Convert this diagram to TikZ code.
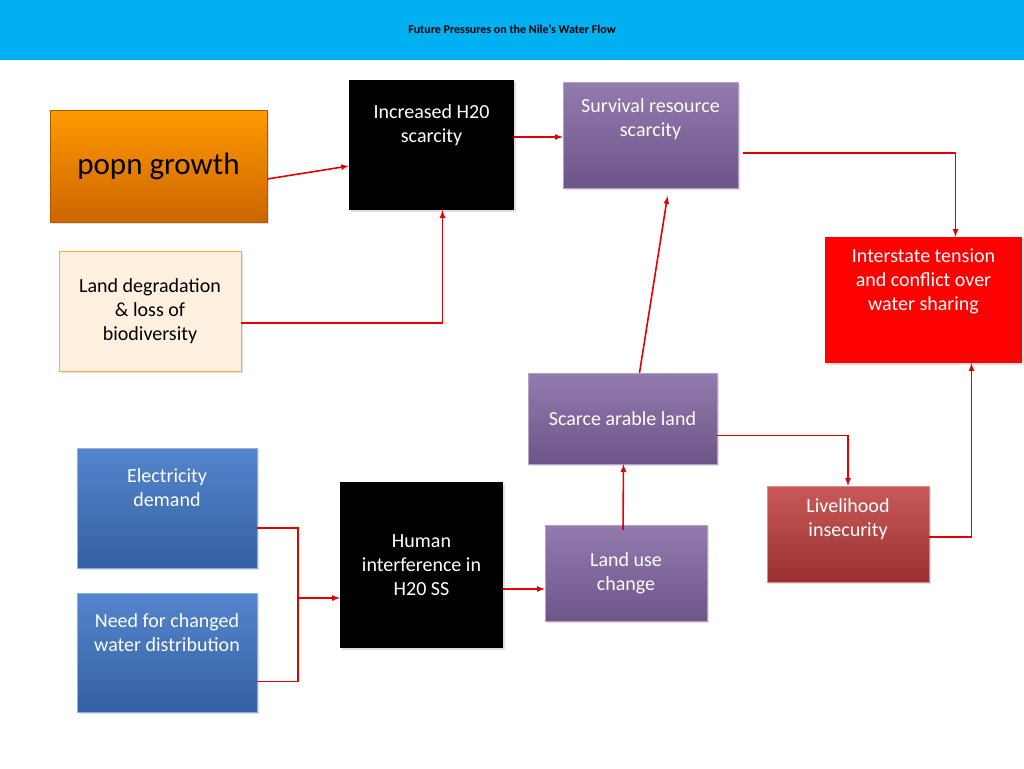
\documentclass[tikz,border=0pt]{standalone}
\usepackage{fontspec}
\setmainfont{Carlito}
\usetikzlibrary{shadows}
\definecolor{titlebg}{RGB}{0,176,240}
\definecolor{purp}{RGB}{128,100,162}
\definecolor{blu}{RGB}{65,120,200}
\definecolor{lvred}{RGB}{192,60,60}
\tikzset{
  box/.style={minimum width=#1, align=center, font=\fontsize{20}{24}\selectfont, drop shadow={opacity=0.25}},
  purpbox/.style={box=#1, top color=purp!85!white, bottom color=purp!85!black, draw=purp!60!white, text=white},
  blkbox/.style={box=#1, fill=black, text=white},
  bluebox/.style={box=#1, top color=blu!90!white, bottom color=blu!80!black, draw=blu!60!white, text=white},
  link/.style={draw=red!90!black, line width=1.6pt, -latex}
}
\begin{document}
\begin{tikzpicture}[x=1pt, y=-1pt]
  \useasboundingbox (0,0) rectangle (1024,768);
  \fill[titlebg] (0,0) rectangle (1024,60);
  \node[font=\bfseries\fontsize{12}{14}\selectfont] (title) at (512,29) {Future Pressures on the Nile’s Water Flow};

  \node[box=217pt, minimum height=112pt, top color=orange!80!yellow, bottom color=orange!80!black, draw=orange!70!black, font=\fontsize{31}{36}\selectfont] (pop) at (158.5,166) {popn growth};
  \node[blkbox=165pt, minimum height=130pt] (h2o) at (431.5,145) {Increased H20\\scarcity\\[18pt]};
  \node[purpbox=175pt, minimum height=106pt] (surv) at (650.5,135) {Survival resource\\scarcity\\[10pt]};
  \node[box=182pt, minimum height=120pt, fill=orange!12, draw=orange!70] (land) at (150,311) {Land degradation\\\& loss of\\biodiversity};
  \node[box=197pt, minimum height=126pt, fill=red, text=white] (tens) at (923.5,300) {Interstate tension\\and conflict over\\water sharing\\[16pt]};
  \node[purpbox=189pt, minimum height=91pt] (arab) at (622.5,418.5) {Scarce arable land};
  \node[bluebox=180pt, minimum height=120pt] (elec) at (167,508) {Electricity\\demand\\[16pt]};
  \node[bluebox=180pt, minimum height=119pt] (need) at (167,652.5) {Need for changed\\water distribution\\[16pt]};
  \node[blkbox=163pt, minimum height=166pt] (hum) at (421.5,565) {Human\\interference in\\H20 SS};
  \node[purpbox=162pt, minimum height=96pt] (luse) at (626,573) {Land use\\change};
  \node[box=162pt, minimum height=96pt, top color=lvred!85!white, bottom color=lvred!80!black, draw=lvred!60!white, text=white] (live) at (848,534) {Livelihood\\insecurity\\[8pt]};

  \draw[link] ([yshift=-13pt]pop.east) -- (pop.east -| h2o.west);
  \draw[link] ([yshift=8pt]h2o.east) -- ([yshift=8pt]h2o.east -| surv.west);
  \draw[link] ([yshift=-12pt]land.east) -| ([xshift=11pt]h2o.south);
  \draw[link] ([xshift=5pt,yshift=-18pt]surv.east) -| ([xshift=32pt]tens.north);
  \draw[link] ([xshift=17pt]arab.north) -- ([xshift=17pt,yshift=-8pt]surv.south);
  \draw[link] ([yshift=-17pt]arab.east) -| (live.north);
  \draw[link] ([yshift=-3pt]live.east) -| ([xshift=48pt]tens.south);
  \coordinate (join) at (298,598);
  \draw[red!90!black, line width=1.6pt] ([yshift=-20pt]elec.east) -| (join);
  \draw[red!90!black, line width=1.6pt] ([yshift=-29pt]need.east) -| (join);
  \draw[link] (join) -- (join -| hum.west);
  \draw[link] ([yshift=-24pt]hum.east) -- ([yshift=-24pt]hum.east -| luse.west);
  \draw[link] ([yshift=-5pt,xshift=-3pt]luse.north) -- ([xshift=1pt]arab.south);
\end{tikzpicture}
\end{document}
